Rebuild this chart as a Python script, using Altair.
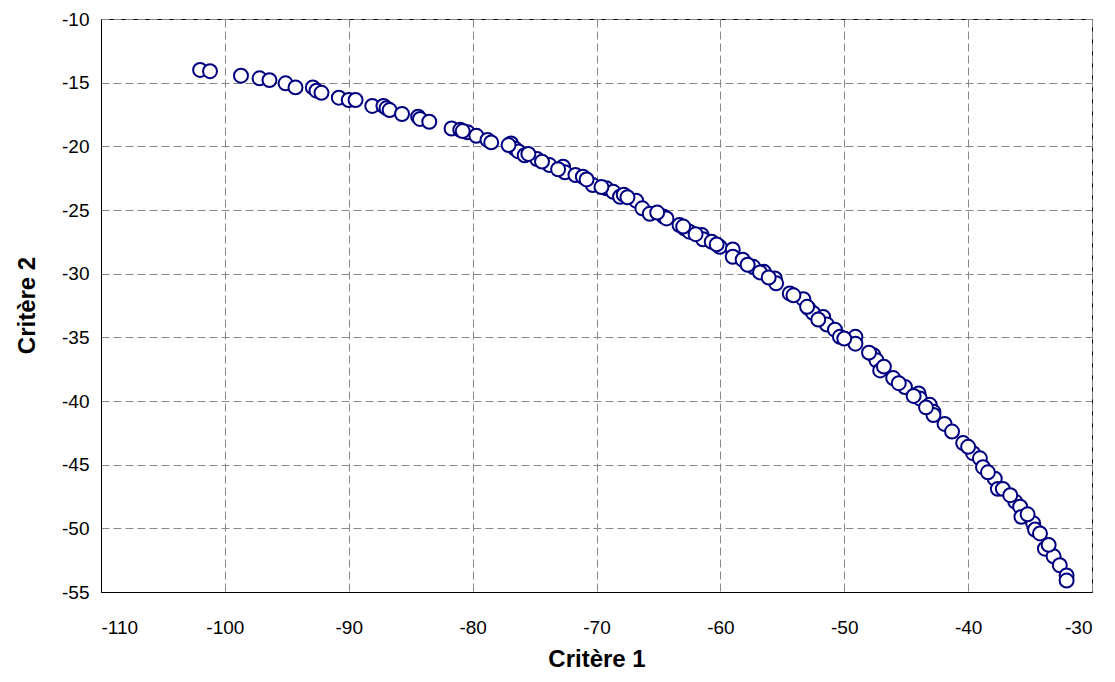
import altair as alt
import pandas as pd

critere1 = [
    -102.0, -101.2, -98.7, -97.2, -96.4, -95.1, -94.3, -92.9, -92.6, -92.2,
    -90.8, -90.0, -89.45, -88.1, -87.2, -86.95, -86.7, -85.7, -84.4, -84.25,
    -83.5, -81.7, -81.0, -80.4, -79.7, -78.8, -78.5, -76.9, -76.6, -76.3,
    -75.8, -74.8, -73.8, -72.7, -72.55, -71.7, -71.1, -70.3, -69.2, -68.65,
    -68.1, -66.8, -66.3, -65.7, -64.6, -64.35, -63.3, -62.9, -62.5, -61.5,
    -61.4, -60.7, -60.05, -59.0, -59.0, -57.35, -56.5, -55.6, -55.5, -54.4,
    -53.3, -52.9, -52.5, -51.7, -51.4, -50.75, -50.35, -49.1, -49.1, -47.65,
    -47.4, -47.1, -46.05, -45.1, -44.0, -43.9, -43.1, -42.8, -42.8, -41.9,
    -41.3, -40.4, -39.6, -39.05, -38.8, -37.85, -37.6, -36.2, -35.8, -35.7,
    -34.75, -34.6, -34.2, -33.8, -33.1, -32.6, -32.05, -32.05,
    -80.8, -77.1, -75.5, -74.4, -73.1, -70.8, -69.6, -67.8, -67.5, -65.1,
    -63.0, -62.0, -60.3, -58.2, -57.8, -56.8, -56.1, -54.1, -53.0, -52.1,
    -50.0, -48.0, -46.8, -45.6, -44.4, -43.4, -40.0, -38.4, -37.2, -36.6,
    -35.2, -33.5,
]
critere2 = [
    -14.0, -14.1, -14.45, -14.66, -14.8, -15.05, -15.37, -15.37, -15.63, -15.8,
    -16.18, -16.36, -16.36, -16.83, -16.83, -17.0, -17.15, -17.46, -17.67, -17.85,
    -18.07, -18.6, -18.7, -18.9, -19.17, -19.5, -19.69, -19.77, -20.16, -20.4,
    -20.7, -21.0, -21.47, -21.6, -22.04, -22.25, -22.39, -23.04, -23.3, -23.57,
    -23.96, -24.27, -24.87, -25.3, -25.5, -25.66, -26.18, -26.44, -26.7, -26.97,
    -27.3, -27.5, -27.89, -28.1, -28.67, -29.46, -29.85, -30.37, -30.76, -31.55,
    -32.0, -32.7, -33.1, -33.4, -34.0, -34.4, -34.96, -34.96, -35.5, -36.4,
    -36.8, -37.6, -38.2, -38.9, -39.4, -39.8, -40.3, -40.85, -41.1, -41.8,
    -42.4, -43.3, -44.1, -44.5, -45.2, -46.1, -46.9, -47.9, -48.3, -49.1,
    -49.6, -50.1, -50.4, -51.6, -52.2, -52.9, -53.7, -54.1,
    -18.8, -19.9, -20.6, -21.2, -21.8, -22.6, -23.2, -23.8, -24.0, -25.2,
    -26.3, -26.9, -27.7, -28.9, -29.3, -29.9, -30.3, -31.7, -32.6, -33.6,
    -35.1, -36.2, -37.3, -38.6, -39.6, -40.5, -43.6, -45.6, -46.9, -47.4,
    -48.9, -51.3,
]

df = pd.DataFrame({"c1": critere1, "c2": critere2})

FONT = "Liberation Sans"

chart = (
    alt.Chart(df)
    .mark_point(shape="circle", filled=True, fill="white", stroke="#000080",
                strokeWidth=2, size=195, opacity=1)
    .encode(
        x=alt.X("c1:Q", title="Critère 1",
                scale=alt.Scale(domain=[-110, -30], nice=False, zero=False),
                axis=alt.Axis(values=list(range(-110, -29, 10)), ticks=False,
                              labelExpr="'' + datum.value",
                              labelPadding=26, titlePadding=10)),
        y=alt.Y("c2:Q", title="Critère 2",
                scale=alt.Scale(domain=[-55, -10], nice=False, zero=False),
                axis=alt.Axis(values=list(range(-55, -9, 5)), ticks=False,
                              labelExpr="'' + datum.value",
                              labelPadding=12, titleAngle=270,
                              titleX=-74, titleY=286, titleBaseline="middle",
                              titleAlign="center")),
    )
    .properties(width=991, height=573,
                autosize=alt.AutoSizeParams(type="none"),
                padding={"left": 93, "top": 11, "right": 15, "bottom": 80})
    .configure_view(stroke="#000000", strokeWidth=1)
    .configure_axis(
        grid=True, gridColor="#888888", gridDash=[8, 4], gridWidth=1,
        domainColor="#000000", domainWidth=1,
        labelFont=FONT, labelFontSize=19, labelColor="#000000",
        titleFont=FONT, titleFontSize=24, titleFontWeight="bold", titleColor="#000000",
    )
)

chart.save("out.html", embed_options={"renderer": "svg", "actions": False})
